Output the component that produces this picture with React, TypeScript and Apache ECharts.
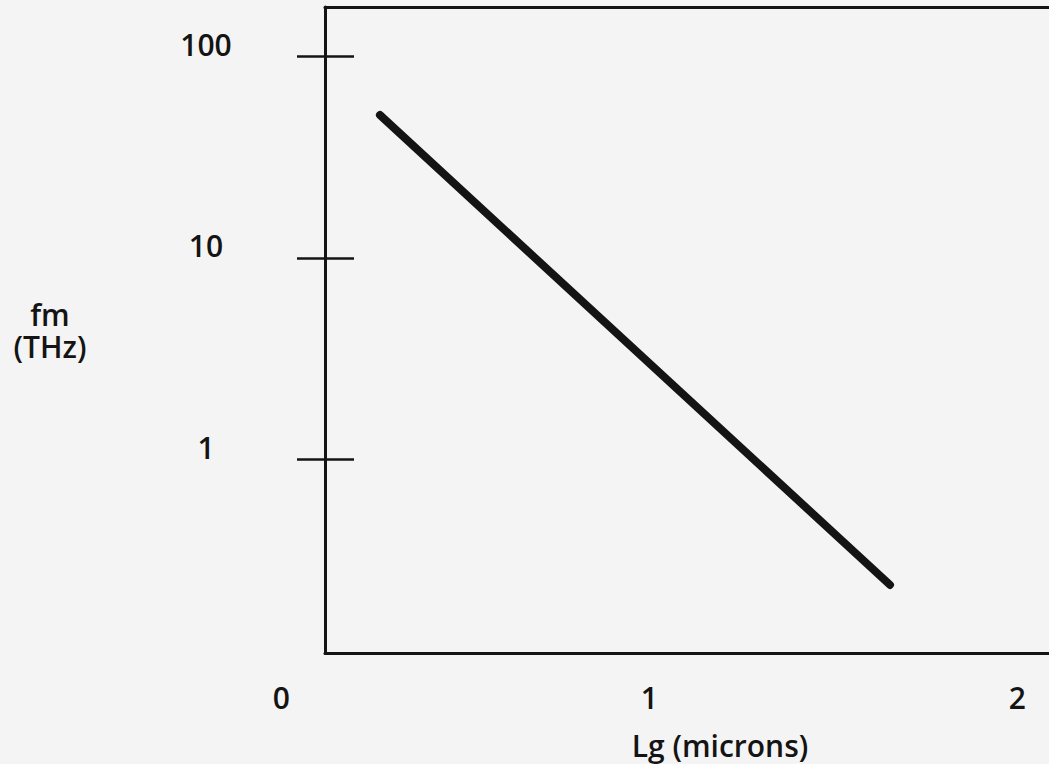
import React, { useEffect, useRef } from "react";
import * as echarts from "echarts";

// Tick labels
const xTickValues = [0, 1, 2];
const yTickValues = [1, 10, 100];

// Series: fm (THz) versus Lg (microns)
const lgMicrons = [0.268, 1.654];
const fmTHz = [51.1, 0.239];

const FONT = "Open Sans";
const INK = "#141414";
const WEIGHT = 600;
const FS = 30;

export default function App() {
  const ref = useRef<HTMLDivElement>(null);

  useEffect(() => {
    if (!ref.current) return;
    const chart = echarts.init(ref.current, null, { renderer: "svg" });

    const yMin = 0.1098;
    const yMax = 175.5;
    const xMin = 0.1187;
    const xMax = 2.0861;

    chart.setOption({
      animation: false,
      backgroundColor: "#f4f4f4",
      grid: [
        { left: 281.3, right: 31.7, top: 7, bottom: 111 },
        { left: 325, right: 0, top: 7, bottom: 111 },
      ],
      xAxis: [
        {
          gridIndex: 0,
          type: "value",
          min: 0,
          max: 2,
          interval: 1,
          axisLine: { show: false },
          axisTick: { show: false },
          splitLine: { show: false },
          axisLabel: {
            customValues: xTickValues,
            fontFamily: FONT,
            fontWeight: WEIGHT,
            fontSize: FS,
            color: INK,
            margin: 29,
          },
        },
        {
          gridIndex: 1,
          type: "value",
          position: "bottom",
          min: xMin,
          max: xMax,
          axisLine: { show: true, lineStyle: { color: INK, width: 3 } },
          axisTick: { show: false },
          axisLabel: { show: false },
          splitLine: { show: false },
        },
        {
          gridIndex: 1,
          type: "value",
          position: "top",
          min: xMin,
          max: xMax,
          axisLine: { show: true, lineStyle: { color: INK, width: 3 } },
          axisTick: { show: false },
          axisLabel: { show: false },
          splitLine: { show: false },
        },
      ],
      yAxis: [
        { gridIndex: 0, type: "value", show: false },
        {
          gridIndex: 1,
          type: "log",
          logBase: 10,
          min: yMin,
          max: yMax,
          position: "left",
          axisLine: { show: true, lineStyle: { color: INK, width: 3 } },
          axisTick: {
            show: true,
            inside: false,
            length: 28,
            customValues: yTickValues,
            lineStyle: { color: INK, width: 2.5 },
          },
          axisLabel: {
            customValues: yTickValues,
            fontFamily: FONT,
            fontWeight: WEIGHT,
            fontSize: FS,
            lineHeight: 24,
            color: INK,
            margin: 119,
            align: "center",
            verticalAlign: "bottom",
          },
          splitLine: { show: false },
          name: "fm\n(THz)",
          nameLocation: "middle",
          nameRotate: 0,
          nameGap: 275,
          nameTextStyle: {
            fontFamily: FONT,
            fontWeight: WEIGHT,
            fontSize: FS,
            color: INK,
            align: "center",
            lineHeight: 32,
          },
        },
        {
          gridIndex: 1,
          type: "log",
          logBase: 10,
          min: yMin,
          max: yMax,
          position: "left",
          axisLine: { show: false },
          axisTick: {
            show: true,
            inside: true,
            length: 29,
            customValues: yTickValues,
            lineStyle: { color: INK, width: 2.5 },
          },
          axisLabel: { show: false },
          splitLine: { show: false },
        },
      ],
      series: [
        {
          type: "line",
          xAxisIndex: 1,
          yAxisIndex: 1,
          data: lgMicrons.map((x, i) => [x, fmTHz[i]]),
          symbol: "none",
          lineStyle: { color: INK, width: 8, cap: "round" },
        },
      ],
      graphic: [
        {
          type: "text",
          x: 720,
          y: 745,
          style: {
            text: "Lg (microns)",
            fontFamily: FONT,
            fontWeight: WEIGHT,
            fontSize: FS,
            fill: INK,
            textAlign: "center",
            textVerticalAlign: "middle",
          },
        },
      ],
    });

    return () => chart.dispose();
  }, []);

  return (
    <div
      ref={ref}
      style={{ position: "fixed", left: 0, top: 0, width: 1049, height: 764 }}
    />
  );
}
